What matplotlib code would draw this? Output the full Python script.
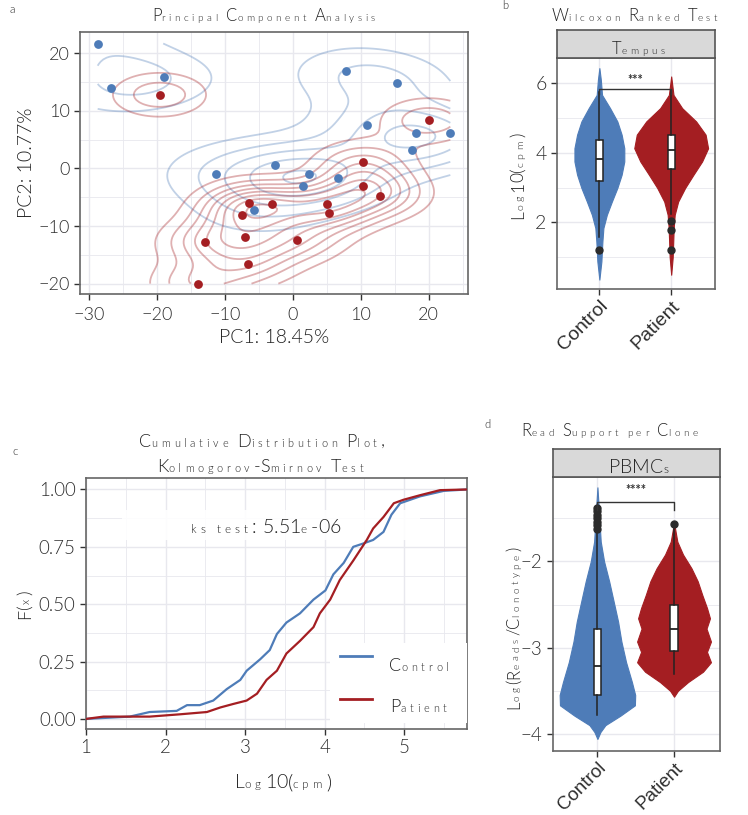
import numpy as np
import matplotlib
matplotlib.use("Agg")
import matplotlib.pyplot as plt
import matplotlib.transforms as mtransforms
from matplotlib.patches import Rectangle
from matplotlib.ticker import MultipleLocator, MaxNLocator

W, H = 748, 815
BLUE = "#4E7CB8"
RED = "#A41E22"
GRID = "#E8E8EE"
TXT = "#222222"
FONT = "Lato"

plt.rcParams["font.family"] = [FONT, "DejaVu Sans"]
plt.rcParams["font.weight"] = 300
plt.rcParams["axes.labelweight"] = 300

# --- a: PCA scores ---
ctrl_pc1 = [-28.7, -26.8, -18.9, 7.9, 15.4, 11.0, 18.1, 23.2, 17.6, -11.3, -2.6, 2.4, 1.5, 6.7, -5.7]
ctrl_pc2 = [21.7, 14.0, 15.8, 16.9, 14.8, 7.5, 6.1, 6.1, 3.2, -0.9, 0.6, -0.9, -3.0, -1.6, -7.2]
pat_pc1 = [-19.6, 20.0, 10.3, 10.3, 12.9, 5.0, 5.4, -3.0, -6.5, -7.4, -7.0, -12.9, -6.6, 0.7, -14.0]
pat_pc2 = [12.8, 8.4, 1.1, -3.0, -4.7, -6.1, -7.7, -6.2, -6.0, -8.0, -11.9, -12.8, -16.6, -12.5, -20.0]

# --- b: violin outlines (log10 cpm, half width) and box stats ---
b_ctrl_y = [0.36, 0.88, 1.45, 1.84, 2.22, 2.60, 2.99, 3.37, 3.75, 4.13, 4.52, 4.90, 5.28, 5.66, 6.10, 6.43]
b_ctrl_w = [0.0, 0.028, 0.042, 0.056, 0.104, 0.174, 0.25, 0.31, 0.347, 0.347, 0.31, 0.25, 0.149, 0.037, 0.02, 0.0]
b_pat_y = [0.50, 1.00, 1.84, 2.22, 2.60, 2.99, 3.37, 3.75, 4.13, 4.52, 4.90, 5.28, 5.66, 6.19]
b_pat_w = [0.0, 0.021, 0.035, 0.049, 0.097, 0.194, 0.31, 0.43, 0.514, 0.479, 0.347, 0.153, 0.032, 0.0]
b_ctrl_box = dict(med=3.83, q1=3.20, q3=4.37, whislo=1.57, whishi=5.75, fliers=[1.20])
b_pat_box = dict(med=4.08, q1=3.53, q3=4.52, whislo=2.25, whishi=5.80, fliers=[2.04, 1.77, 1.20])

# --- c: ECDF of log10 cpm ---
c_ctrl_x = [1.00, 1.55, 1.80, 2.14, 2.27, 2.43, 2.60, 2.77, 2.94, 3.02, 3.19, 3.31, 3.40, 3.52, 3.69, 3.86,
            4.01, 4.11, 4.24, 4.36, 4.49, 4.61, 4.74, 4.84, 4.95, 5.20, 5.50, 5.79]
c_ctrl_f = [0.0, 0.01, 0.03, 0.035, 0.06, 0.06, 0.08, 0.13, 0.17, 0.21, 0.26, 0.30, 0.37, 0.42, 0.46, 0.52,
            0.56, 0.63, 0.68, 0.75, 0.765, 0.78, 0.815, 0.89, 0.94, 0.97, 0.994, 1.0]
c_pat_x = [1.00, 1.22, 1.80, 2.18, 2.52, 2.69, 2.85, 3.02, 3.15, 3.27, 3.40, 3.52, 3.69, 3.86, 3.94, 4.07,
           4.19, 4.36, 4.53, 4.61, 4.74, 4.87, 4.99, 5.20, 5.45, 5.79]
c_pat_f = [0.0, 0.01, 0.01, 0.02, 0.03, 0.05, 0.065, 0.08, 0.11, 0.17, 0.21, 0.285, 0.34, 0.40, 0.46, 0.52,
           0.605, 0.69, 0.78, 0.83, 0.88, 0.94, 0.955, 0.975, 0.997, 1.0]

# --- d: violin outlines (log reads/clonotype) and box stats ---
d_ctrl_y = [-4.06, -3.98, -3.90, -3.79, -3.67, -3.55, -3.40, -3.17, -2.93, -2.70, -2.47, -2.23, -2.00, -1.77, -1.38, -1.14]
d_ctrl_w = [0.0, 0.039, 0.104, 0.30, 0.489, 0.493, 0.45, 0.374, 0.313, 0.27, 0.213, 0.153, 0.087, 0.043, 0.017, 0.0]
d_pat_y = [-3.57, -3.50, -3.40, -3.28, -3.17, -3.05, -2.93, -2.78, -2.66, -2.54, -2.39, -2.23, -2.08, -1.92, -1.77, -1.55]
d_pat_w = [0.0, 0.052, 0.183, 0.378, 0.482, 0.43, 0.482, 0.424, 0.469, 0.43, 0.369, 0.309, 0.228, 0.117, 0.043, 0.0]
d_ctrl_box = dict(med=-3.21, q1=-3.55, q3=-2.78, whislo=-3.78, whishi=-1.65,
                  fliers=[-1.38, -1.42, -1.46, -1.50, -1.54, -1.58, -1.62])
d_pat_box = dict(med=-2.78, q1=-3.04, q3=-2.51, whislo=-3.31, whishi=-1.62, fliers=[-1.56])

groups = ["Control", "Patient"]


fig = plt.figure(figsize=(W / 100, H / 100), dpi=100)
renderer = fig.canvas.get_renderer()


def px_axes(l, t, r, b):
    return fig.add_axes([l / W, 1 - b / H, (r - l) / W, (b - t) / H])


def mixed_text(x, y, s, size, ha="center", rotation=0, color=TXT, small=0.6, track=0.35):
    # capitals / digits full size, lowercase letters small and spread out
    widths = []
    for ch in s:
        fs = size * small if ch.islower() else size
        if ch == " ":
            widths.append(size * 0.32 * 100 / 72)
            continue
        t = fig.text(0, 0, ch, fontsize=fs)
        w = t.get_window_extent(renderer).width
        t.remove()
        if ch.islower():
            w += track * fs * 100 / 72
        widths.append(w)
    total = sum(widths)
    pos = {"center": -total / 2, "left": 0.0, "right": -total}[ha]
    ang = np.deg2rad(rotation)
    for ch, w in zip(s, widths):
        if ch != " ":
            fs = size * small if ch.islower() else size
            tr = mtransforms.offset_copy(fig.transFigure, fig=fig, x=pos * np.cos(ang),
                                         y=pos * np.sin(ang), units="dots")
            fig.text(x / W, 1 - y / H, ch, fontsize=fs, color=color, rotation=rotation,
                     rotation_mode="anchor", ha="left", va="baseline", transform=tr)
        pos += w


def style(ax, size):
    for sp in ax.spines.values():
        sp.set_color("#666666")
        sp.set_linewidth(1.2)
    ax.tick_params(which="major", length=4, width=1, color="#333333", labelsize=size,
                   labelcolor="#2E2E2E")
    ax.tick_params(which="minor", length=0)
    ax.grid(which="major", color=GRID, lw=1.0)
    ax.grid(which="minor", color=GRID, lw=0.6)
    ax.set_axisbelow(True)


def kde2d(x, y, gx, gy, f=0.7):
    x, y = np.asarray(x), np.asarray(y)
    n = len(x)

    def bw(v):
        iqr = np.subtract(*np.percentile(v, [75, 25]))
        return 1.06 * min(v.std(ddof=1), iqr / 1.34) * n ** -0.2 * f

    hx, hy = bw(x), bw(y)
    X, Y = np.meshgrid(gx, gy)
    Z = np.zeros_like(X)
    for xi, yi in zip(x, y):
        Z += np.exp(-0.5 * ((X - xi) / hx) ** 2 - 0.5 * ((Y - yi) / hy) ** 2)
    return X, Y, Z / (n * 2 * np.pi * hx * hy)


def violin_panel(ax, ys, ws, boxes, colors):
    for i, (yy, ww, st, c) in enumerate(zip(ys, ws, boxes, colors)):
        p = i + 1
        yy, ww = np.array(yy), np.array(ww)
        ax.fill_betweenx(yy, p - ww, p + ww, color=c, lw=0.8, edgecolor=c, zorder=2)
        ax.bxp([st], positions=[p], widths=0.1, patch_artist=True, showcaps=False,
               boxprops=dict(facecolor="white", edgecolor="#222222", lw=1.1),
               medianprops=dict(color="#222222", lw=1.3),
               whiskerprops=dict(color="#222222", lw=1.1),
               flierprops=dict(marker="o", mfc="#2B2B2B", mec="#2B2B2B", ms=5),
               zorder=3)
    ax.set_xticks([1, 2])
    ax.set_xticklabels(groups, rotation=45, ha="right", rotation_mode="anchor",
                       fontsize=12.5, fontweight="normal", family="Liberation Sans", color="black")
    ax.tick_params(axis="x", pad=2)
    ax.xaxis.grid(True, which="major", color=GRID, lw=1.0)


def strip(l, t, r, b, label, size, y):
    sax = px_axes(l, t, r, b)
    sax.set_facecolor("#D9D9D9")
    sax.set_xticks([])
    sax.set_yticks([])
    for sp in sax.spines.values():
        sp.set_color("#555555")
        sp.set_linewidth(1.2)
    mixed_text((l + r) / 2 + 4, y, label, size)


# ---------------- a: PCA ----------------
ax = px_axes(80, 32, 468, 294)
gx = np.linspace(min(ctrl_pc1 + pat_pc1), max(ctrl_pc1 + pat_pc1), 120)
gy = np.linspace(min(ctrl_pc2 + pat_pc2), max(ctrl_pc2 + pat_pc2), 120)
dens = [(kde2d(xs, ys, gx, gy), c) for xs, ys, c in
        [(ctrl_pc1, ctrl_pc2, BLUE), (pat_pc1, pat_pc2, RED)]]
zmax = max(d[0][2].max() for d in dens)
levels = MaxNLocator(10).tick_values(0, zmax)[1:]
for (X, Y, Z), c in dens:
    ax.contour(X, Y, Z, levels=levels, colors=c, linewidths=1.3, alpha=0.35, zorder=2)
ax.scatter(ctrl_pc1, ctrl_pc2, s=40, color=BLUE, lw=0, zorder=3)
ax.scatter(pat_pc1, pat_pc2, s=40, color=RED, lw=0, zorder=3)
ax.set_xlim(-31.3, 25.8)
ax.set_ylim(-21.8, 23.7)
ax.xaxis.set_major_locator(MultipleLocator(10))
ax.xaxis.set_minor_locator(MultipleLocator(5))
ax.yaxis.set_major_locator(MultipleLocator(10))
ax.yaxis.set_minor_locator(MultipleLocator(5))
style(ax, 13)
ax.tick_params(axis="x", pad=5)
ax.set_xlabel("PC1: 18.45%", fontsize=14, color=TXT, labelpad=5)
ax.set_ylabel("PC2: 10.77%", fontsize=14, color=TXT, labelpad=2)
mixed_text(265, 21, "Principal Component Analysis", 12)
fig.text(10 / W, 1 - 13 / H, "a", fontsize=8, color=TXT)

# ---------------- b: Wilcoxon violins ----------------
ax = px_axes(557, 58, 715, 289)
violin_panel(ax, [b_ctrl_y, b_pat_y], [b_ctrl_w, b_pat_w], [b_ctrl_box, b_pat_box], [BLUE, RED])
ax.set_xlim(0.41, 2.61)
ax.set_ylim(0.09, 6.72)
ax.yaxis.set_major_locator(MultipleLocator(2))
ax.yaxis.set_minor_locator(MultipleLocator(1))
style(ax, 14)
ax.plot([1, 1, 2, 2], [5.70, 5.83, 5.83, 5.70], color="#333333", lw=1, zorder=4)
ax.text(1.5, 5.93, "***", ha="center", va="bottom", fontsize=9, fontweight="bold", color="#333333")
strip(557, 30, 715, 58, "Tempus", 12, 54)
mixed_text(636, 21, "Wilcoxon Ranked Test", 12)
mixed_text(523, 176, "Log10(cpm)", 12.5, rotation=90)
fig.text(502 / W, 1 - 9 / H, "b", fontsize=8, color=TXT)

# ---------------- c: ECDF ----------------
ax = px_axes(86, 478, 467, 729)
ax.plot(c_ctrl_x, c_ctrl_f, color=BLUE, lw=1.6, zorder=3)
ax.plot(c_pat_x, c_pat_f, color=RED, lw=1.6, zorder=3)
ax.set_xlim(1.0, 5.79)
ax.set_ylim(-0.044, 1.05)
ax.xaxis.set_major_locator(MultipleLocator(1))
ax.xaxis.set_minor_locator(MultipleLocator(0.5))
ax.yaxis.set_major_locator(MultipleLocator(0.25))
ax.yaxis.set_minor_locator(MultipleLocator(0.125))
ax.yaxis.set_major_formatter(lambda v, p: f"{v:.2f}")
style(ax, 13.5)
ax.add_patch(Rectangle((1.45, 0.78), 3.75, 0.13, facecolor="white", edgecolor="none", alpha=0.9, zorder=2))
ax.add_patch(Rectangle((4.07, -0.02), 1.72, 0.35, facecolor="white", edgecolor="none", zorder=4))
for yy, c in [(0.272, BLUE), (0.086, RED)]:
    ax.plot([4.19, 4.60], [yy, yy], color=c, lw=2, zorder=5)
mixed_text(266, 533, "ks test: 5.51e-06", 14)
mixed_text(389, 671, "Control", 13, ha="left")
mixed_text(390, 712, "Patient", 13, ha="left")
mixed_text(262, 447, "Cumulative Distribution Plot,", 13)
mixed_text(262, 472, "Kolmogorov-Smirnov Test", 13)
mixed_text(283, 788, "Log10(cpm)", 14)
mixed_text(30, 605, "F(x)", 13, rotation=90)
fig.text(12 / W, 1 - 455 / H, "c", fontsize=8, color=TXT)

# ---------------- d: read support violins ----------------
ax = px_axes(553, 477, 720, 751)
violin_panel(ax, [d_ctrl_y, d_pat_y], [d_ctrl_w, d_pat_w], [d_ctrl_box, d_pat_box], [BLUE, RED])
ax.set_xlim(0.42, 2.6)
ax.set_ylim(-4.2, -1.02)
ax.yaxis.set_major_locator(MultipleLocator(1))
ax.yaxis.set_minor_locator(MultipleLocator(0.5))
style(ax, 13.5)
ax.plot([1, 1, 2, 2], [-1.40, -1.31, -1.31, -1.40], color="#333333", lw=1, zorder=4)
ax.text(1.5, -1.24, "****", ha="center", va="bottom", fontsize=9, fontweight="bold", color="#333333")
strip(553, 449, 720, 477, "PBMCs", 14, 473)
mixed_text(611, 436, "Read Support per Clone", 12)
mixed_text(519, 628, "Log(Reads/Clonotype)", 12, rotation=90)
fig.text(484 / W, 1 - 428 / H, "d", fontsize=8, color=TXT)

fig.savefig("out.png", dpi=100)
